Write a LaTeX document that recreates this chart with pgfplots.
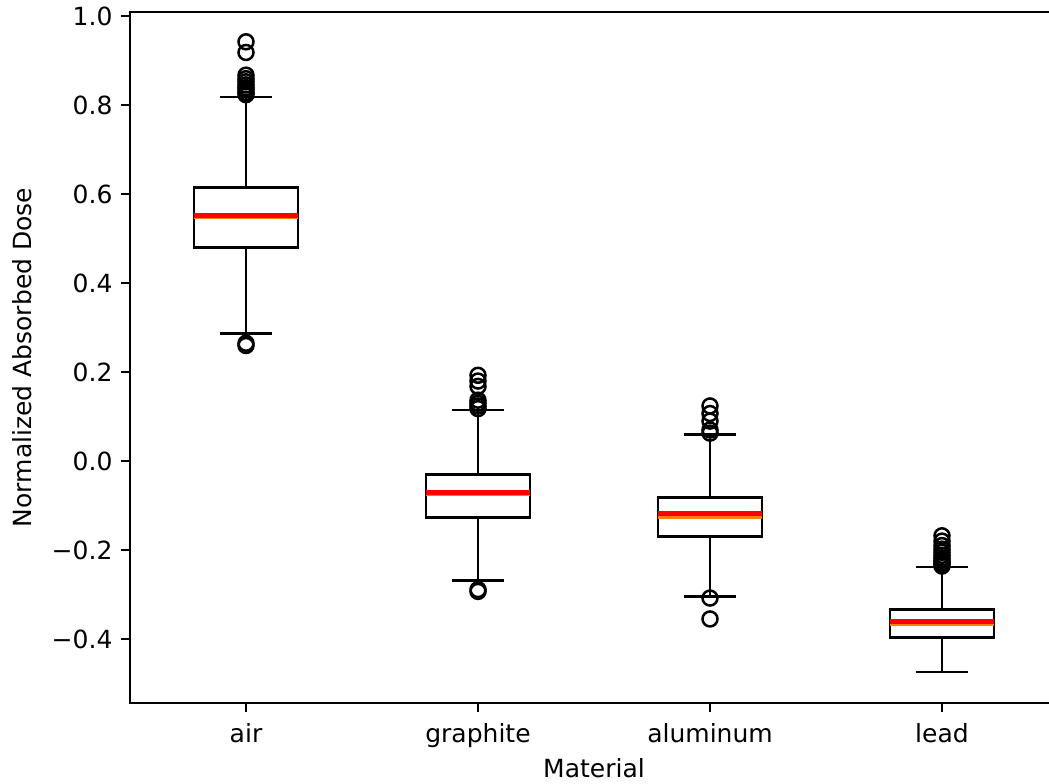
\documentclass[border=0pt]{standalone}
\usepackage{fontspec}
\setmainfont{DejaVu Sans}
\usepackage{pgfplots}
\pgfplotsset{compat=1.18}
\usepgfplotslibrary{statistics}
\definecolor{mplorange}{HTML}{FF7F0E}

\begin{document}
\begin{tikzpicture}
\clip (-52pt,-32pt) rectangle (367.6pt,281.2pt);
\begin{axis}[
  at={(0,0)}, anchor=south west,
  scale only axis, width=371.2pt, height=276.4pt,
  xmin=0.5, xmax=4.5, ymin=-0.544, ymax=1.010,
  xtick={1,2,3,4}, xticklabels={air,graphite,aluminum,lead},
  ytick={-0.4,-0.2,0,0.2,0.4,0.6,0.8,1.0},
  yticklabels={−0.4,−0.2,0.0,0.2,0.4,0.6,0.8,1.0},
  tick align=outside, tick pos=left, major tick length=3.5pt,
  every tick/.style={black, line width=0.8pt},
  axis line style={line width=0.8pt},
  xlabel={Material}, ylabel={Normalized Absorbed Dose},
  tick label style={font=\fontsize{10}{12}\selectfont},
  xticklabel style={yshift=-1pt},
  label style={font=\fontsize{10}{12}\selectfont},
  xlabel style={yshift=2.5pt},
  ylabel style={yshift=1.2pt},
  boxplot/draw direction=y,
  boxplot/box extend=0.45,
  boxplot/whisker extend=0.225,
  boxplot/every median/.style={draw=mplorange, line width=1pt},
  box/.style={black, line width=1pt, solid, mark=o, mark size=3pt,
    mark options={black, line width=1pt, solid}},
]
% air
\addplot[box, boxplot prepared={draw position=1,
  lower whisker=0.287, lower quartile=0.480, median=0.548,
  upper quartile=0.615, upper whisker=0.819}]
  table[row sep=\\, y index=0]{0.943\\0.919\\0.868\\0.860\\0.853\\0.846\\0.840\\0.835\\0.829\\0.824\\0.265\\0.260\\};
% graphite
\addplot[box, boxplot prepared={draw position=2,
  lower whisker=-0.268, lower quartile=-0.127, median=-0.076,
  upper quartile=-0.030, upper whisker=0.115}]
  table[row sep=\\, y index=0]{0.193\\0.180\\0.168\\0.137\\0.130\\0.124\\0.118\\-0.289\\-0.293\\};
% aluminum
\addplot[box, boxplot prepared={draw position=3,
  lower whisker=-0.304, lower quartile=-0.169, median=-0.127,
  upper quartile=-0.082, upper whisker=0.060}]
  table[row sep=\\, y index=0]{0.124\\0.107\\0.090\\0.070\\0.063\\-0.308\\-0.355\\};
% lead
\addplot[box, boxplot prepared={draw position=4,
  lower whisker=-0.474, lower quartile=-0.397, median=-0.367,
  upper quartile=-0.334, upper whisker=-0.238}]
  table[row sep=\\, y index=0]{-0.168\\-0.180\\-0.190\\-0.198\\-0.205\\-0.212\\-0.218\\-0.223\\-0.228\\-0.232\\-0.236\\};
% red reference lines across each box
\addplot[red, line width=2pt, forget plot] coordinates {(0.775,0.553) (1.225,0.553)};
\addplot[red, line width=2pt, forget plot] coordinates {(1.775,-0.071) (2.225,-0.071)};
\addplot[red, line width=2pt, forget plot] coordinates {(2.775,-0.118) (3.225,-0.118)};
\addplot[red, line width=2pt, forget plot] coordinates {(3.775,-0.361) (4.225,-0.361)};
\end{axis}
\end{tikzpicture}
\end{document}
